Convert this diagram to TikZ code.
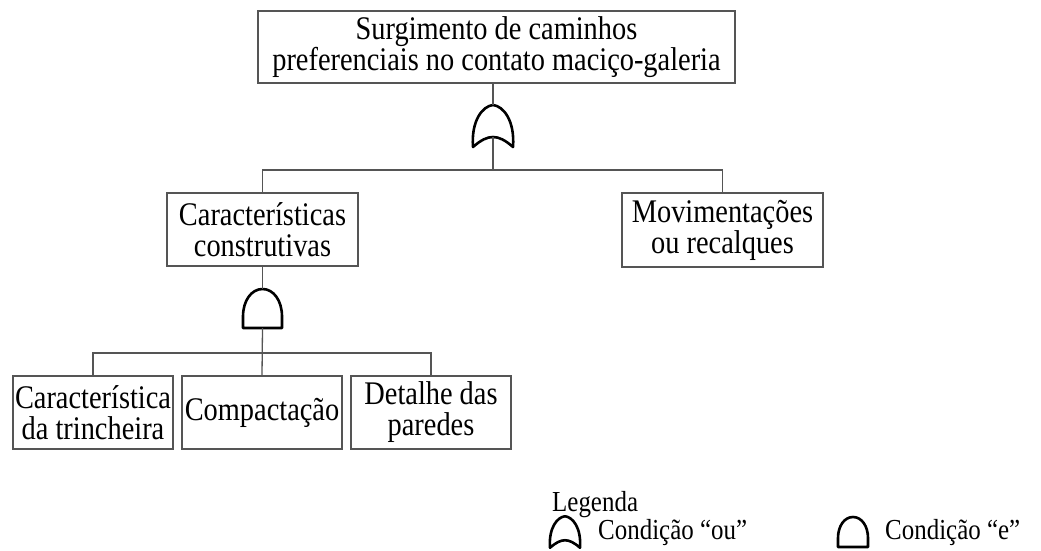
\documentclass[tikz,border=0pt]{standalone}
\usepackage{fontspec}
\setmainfont{Liberation Serif}[FakeStretch=0.86]
\usetikzlibrary{calc}
\definecolor{linegray}{HTML}{555555}
\tikzset{
  box/.style={draw=linegray, line width=1.4pt, align=center, inner sep=0pt,
    font=\fontsize{33}{31}\selectfont, text=black},
  conn/.style={draw=linegray, line width=1.3pt},
  gateline/.style={draw=black, line width=2.6pt, line join=round, fill=white},
  legtext/.style={font=\fontsize{29}{30}\selectfont, inner sep=0pt, anchor=west},
  orgate/.pic={
    \path[gateline] (-20,21) .. controls (-22,-6) and (-10,-20) .. (0,-21)
      .. controls (10,-20) and (22,-6) .. (20,21)
      .. controls (12,14) and (6,11) .. (0,11)
      .. controls (-6,11) and (-12,14) .. (-20,21) -- cycle;
    \coordinate (-top) at (0,-21);
    \coordinate (-bot) at (0,11);
  },
  andgate/.pic={
    \path[gateline] (-19.5,19.5) -- (-19.5,8)
      .. controls (-19.5,-8) and (-11,-19.5) .. (0,-19.5)
      .. controls (11,-19.5) and (19.5,-8) .. (19.5,8)
      -- (19.5,19.5) -- cycle;
    \coordinate (-top) at (0,-19.5);
    \coordinate (-bot) at (0,19.5);
  }
}
\begin{document}
\begin{tikzpicture}[x=1pt,y=-1pt]
\useasboundingbox (0,0) rectangle (1041,550);

% boxes
\node[box, minimum width=477pt, minimum height=72pt] (top) at (496.5,47)
  {Surgimento de caminhos\\preferenciais no contato maciço-galeria};
\node[box, minimum width=191pt, minimum height=73pt] (cc) at (262.5,229.5)
  {Características\\construtivas};
\node[box, minimum width=201pt, minimum height=74pt] (mr) at (722.5,230)
  {Movimentações\\ou recalques};
\node[box, minimum width=160pt, minimum height=73pt] (b1) at (93,412.5)
  {Característica\\da trincheira};
\node[box, minimum width=160pt, minimum height=73pt] (b2) at (262,412.5)
  {Compactação};
\node[box, minimum width=160pt, minimum height=73pt] (b3) at (431,412.5)
  {Detalhe das\\paredes};

% gates
\pic (g1) at (493,126) {orgate};
\pic (g2) at (262.5,308.5) {andgate};

\coordinate (j1) at (493,170);
\coordinate (j2) at (262,353);

% connectors
\draw[conn] (top.south -| g1-top) -- (g1-top);
\draw[conn] (g1-bot) -- (j1);
\draw[conn] (cc.north) -- (cc.north |- j1) -- (mr.north |- j1) -- (mr.north);
\draw[conn] (cc.south) -- (g2-top);
\draw[conn] (g2-bot) -- (b2.north);
\draw[conn] (b1.north) -- (b1.north |- j2) -- (b3.north |- j2) -- (b3.north);

% legend
\node[legtext] (leg) at (552,505) {Legenda};
\pic[scale=0.75] (lg1) at (565,532) {orgate};
\node[legtext] (lou) at (598,533) {Condição “ou”};
\pic[scale=0.77] (lg2) at (853,532) {andgate};
\node[legtext] (le) at (885,533) {Condição “e”};
\end{tikzpicture}
\end{document}
